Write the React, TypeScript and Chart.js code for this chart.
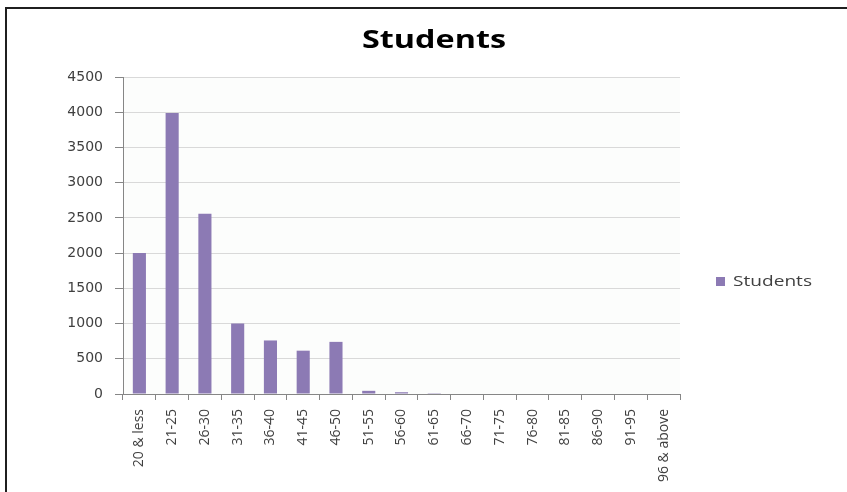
import React, { useEffect, useRef } from "react";
import { Chart, registerables } from "chart.js";

Chart.register(...registerables);

const categories = [
  "20 & less", "21-25", "26-30", "31-35", "36-40", "41-45", "46-50", "51-55",
  "56-60", "61-65", "66-70", "71-75", "76-80", "81-85", "86-90", "91-95", "96 & above",
];
const students = [2000, 3990, 2560, 1000, 760, 615, 740, 45, 25, 12, 0, 0, 0, 0, 0, 0, 0];
const yMin = 0;
const yMax = 4500;
const yStep = 500;
const chartTitle = "Students";
const seriesName = "Students";

const BAR_COLOR = "#8c7ab4";

export default function App() {
  const ref = useRef<HTMLCanvasElement | null>(null);

  useEffect(() => {
    if (!ref.current) return;

    const decor = {
      id: "decor",
      beforeDraw(chart: any) {
        const { ctx, chartArea } = chart;
        ctx.save();
        ctx.fillStyle = "#ffffff";
        ctx.fillRect(0, 0, chart.width, chart.height);
        ctx.fillStyle = "#fcfdfc";
        ctx.fillRect(chartArea.left, chartArea.top, chartArea.right - chartArea.left, chartArea.bottom - chartArea.top);
        ctx.restore();
      },
      afterDraw(chart: any) {
        const { ctx } = chart;
        ctx.save();
        // outer frame (left & top)
        ctx.fillStyle = "#1f1f1f";
        ctx.fillRect(5, 7, 2, chart.height - 7);
        ctx.fillRect(5, 7, chart.width - 5, 2);

        // title
        ctx.fillStyle = "#000000";
        ctx.font = "bold 25px 'Open Sans'";
        ctx.textBaseline = "alphabetic";
        ctx.textAlign = "left";
        const tw = ctx.measureText(chartTitle).width;
        ctx.save();
        ctx.translate(362, 48);
        ctx.scale(144 / tw, 1);
        ctx.fillText(chartTitle, 0, 0);
        ctx.restore();

        // legend
        const ds = chart.data.datasets[0];
        ctx.fillStyle = ds.backgroundColor;
        ctx.fillRect(716, 277, 9, 9);
        ctx.fillStyle = "#404040";
        ctx.font = "14px 'Open Sans'";
        ctx.textBaseline = "middle";
        const lw = ctx.measureText(ds.label).width;
        ctx.save();
        ctx.translate(733, 282);
        ctx.scale(79 / lw, 1);
        ctx.fillText(ds.label, 0, 0);
        ctx.restore();
        ctx.restore();
      },
    };

    const chart = new Chart(ref.current, {
      type: "bar",
      data: {
        labels: categories,
        datasets: [
          {
            label: seriesName,
            data: students,
            backgroundColor: BAR_COLOR,
            borderWidth: 0,
            barPercentage: 0.4,
            categoryPercentage: 1,
          },
        ],
      },
      options: {
        animation: false,
        responsive: false,
        maintainAspectRatio: false,
        layout: { padding: { left: 0, top: 77, right: 167, bottom: 0 } },
        plugins: {
          legend: { display: false },
          title: { display: false },
          tooltip: { enabled: false },
        },
        scales: {
          x: {
            offset: true,
            afterFit(scale: any) {
              scale.height = 98;
            },
            grid: {
              offset: true,
              drawOnChartArea: false,
              drawTicks: true,
              tickLength: 6,
              tickColor: "#868686",
            },
            border: { display: true, color: "#868686", width: 1 },
            ticks: {
              autoSkip: false,
              maxRotation: 90,
              minRotation: 90,
              padding: 9,
              color: "#404040",
              font: { family: "'Open Sans'", size: 14 },
            },
          },
          y: {
            min: yMin,
            max: yMax,
            afterFit(scale: any) {
              scale.width = 123;
            },
            grid: {
              color: "#d9d9d9",
              drawTicks: true,
              tickLength: 8,
              tickColor: "#868686",
            },
            border: { display: true, color: "#868686", width: 1 },
            ticks: {
              stepSize: yStep,
              padding: 12,
              color: "#404040",
              font: { family: "'DejaVu Sans'", size: 14 },
              callback: (v: any) => String(v),
            },
          },
        },
      },
      plugins: [decor],
    });

    return () => chart.destroy();
  }, []);

  return (
    <div style={{ position: "fixed", left: 0, top: 0, width: 847, height: 492, background: "#fff" }}>
      <canvas ref={ref} width={847} height={492} style={{ display: "block", width: 847, height: 492 }} />
    </div>
  );
}
